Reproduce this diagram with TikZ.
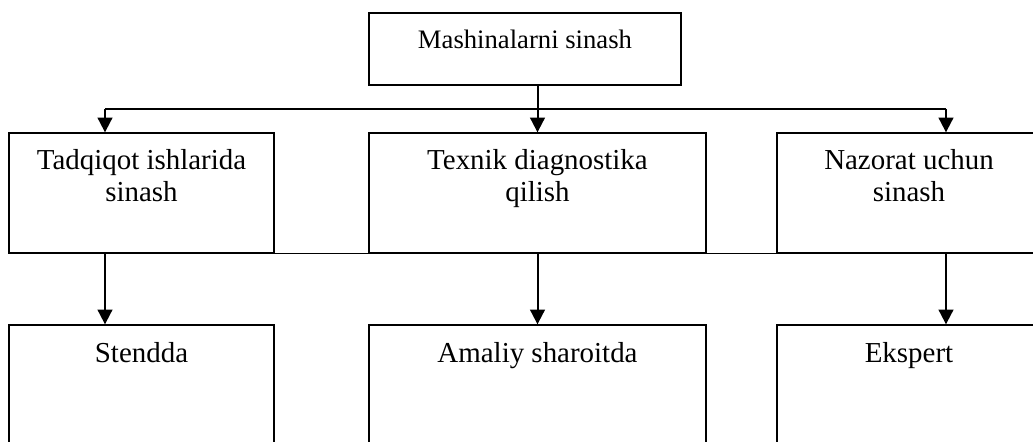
\documentclass[tikz,border=0pt]{standalone}
\usepackage{fontspec}
\setmainfont{Liberation Serif}
\usetikzlibrary{arrows.meta}
\begin{document}
\begin{tikzpicture}[x=0.75pt,y=-0.75pt,
  box/.style={draw=black, line width=1pt, inner sep=0pt, minimum width=#1*0.75pt},
  rowbox/.style={box=#1, minimum height=120*0.75pt},
  lowbox/.style={box=#1, minimum height=140*0.75pt},
  topbox/.style={box=#1, minimum height=72*0.75pt},
  lbl/.style={anchor=base, align=center, inner sep=0pt, font=\fontsize{21.7}{24}\selectfont},
  toplbl/.style={anchor=base, align=center, inner sep=0pt, font=\fontsize{20}{23}\selectfont},
  line/.style={line width=1.2pt},
  arr/.style={line width=1.5pt, -{Triangle[length=11pt,width=11pt]}}]
\useasboundingbox (0,0) rectangle (1033,442);
\clip (0,0) rectangle (1033,442);
% boxes
\node[topbox=312] (T) at (525,49) {};
\node[rowbox=265] (A) at (141.5,193) {};
\node[rowbox=337] (B) at (537.5,193) {};
\node[rowbox=264] (C) at (909,193) {};
\node[lowbox=265] (D) at (141.5,395) {};
\node[lowbox=337] (E) at (537.5,395) {};
\node[lowbox=264] (F) at (909,395) {};
% labels
\node[toplbl] (tT) at (525,49) {Mashinalarni sinash};
\node[lbl] (tA) at (141.5,202) {Tadqiqot ishlarida\\sinash};
\node[lbl] (tB) at (537.5,202) {Texnik diagnostika\\qilish};
\node[lbl] (tC) at (909,202) {Nazorat uchun\\sinash};
\node[lbl] (tD) at (141.5,363) {Stendda};
\node[lbl] (tE) at (537.5,363) {Amaliy sharoitda};
\node[lbl] (tF) at (909,363) {Ekspert};
% connectors
\coordinate (hl) at (105,109);
\coordinate (hr) at (946,109);
\draw[arr] (T.south -| B.north) -- (B.north);
\draw[line] (hl) -- (hr);
\draw[arr] (hl) -- (hl |- A.north);
\draw[arr] (hr) -- (hr |- C.north);
\draw[line width=1pt] (A.south east) -- (B.south west);
\draw[line width=1pt] (B.south east) -- (C.south west);
\draw[arr] (A.south -| hl) -- (D.north -| hl);
\draw[arr] (B.south) -- (E.north);
\draw[arr] (C.south -| hr) -- (F.north -| hr);
\end{tikzpicture}
\end{document}
